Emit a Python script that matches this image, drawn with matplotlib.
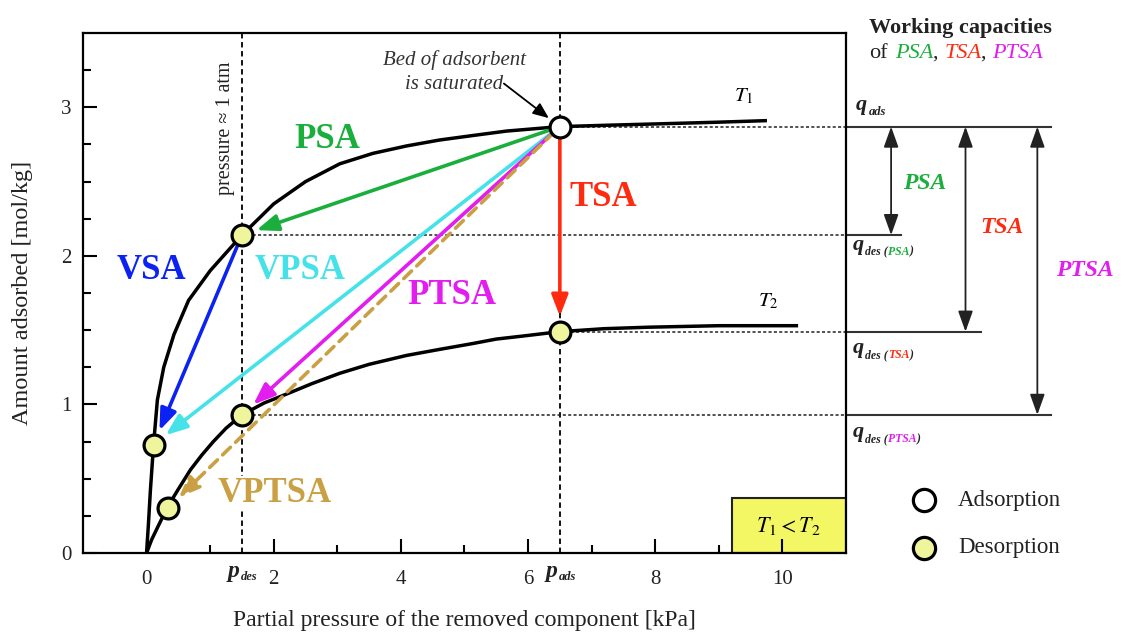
import matplotlib.pyplot as plt
from matplotlib.patches import Rectangle

plt.rcParams['font.family'] = ['Liberation Serif', 'DejaVu Serif']
plt.rcParams['mathtext.fontset'] = 'stix'

# isotherms, partial pressure [kPa] vs loading [mol/kg]
t1_p = [0, 0.03, 0.06, 0.11, 0.17, 0.27, 0.43, 0.66, 1.0, 1.5, 2.0, 2.5, 3.04, 3.56,
        4.09, 4.61, 5.13, 5.66, 6.5, 7.3, 8.17, 9.0, 9.73]
t1_q = [0, 0.2, 0.42, 0.73, 1.03, 1.25, 1.47, 1.70, 1.90, 2.14, 2.35, 2.50, 2.62, 2.69,
        2.74, 2.78, 2.81, 2.84, 2.87, 2.88, 2.89, 2.90, 2.91]
t2_p = [0, 0.08, 0.17, 0.33, 0.5, 0.69, 0.87, 1.05, 1.25, 1.5, 1.85, 2.26, 2.6, 3.04,
        3.5, 4.09, 4.6, 5.13, 5.5, 5.91, 6.5, 7.2, 7.9, 9.0, 10.22]
t2_q = [0, 0.09, 0.17, 0.31, 0.43, 0.56, 0.66, 0.75, 0.84, 0.93, 1.01, 1.08, 1.14, 1.21,
        1.27, 1.33, 1.37, 1.41, 1.44, 1.46, 1.49, 1.51, 1.52, 1.53, 1.53]

p_des = 1.5
p_ads = 6.5
q_ads = 2.87

# desorption end states
des_p = [0.11, 1.5, 0.33, 1.5, 6.5]
des_q = [0.73, 2.14, 0.30, 0.93, 1.49]

# cycles: name, start, end, colour
cycles = [
    ('PSA',   (p_ads, q_ads), (1.5, 2.14), '#1aae3c'),
    ('VSA',   (1.5, 2.14),    (0.11, 0.73), '#0b22f2'),
    ('VPSA',  (p_ads, q_ads), (0.11, 0.73), '#45e2ea'),
    ('PTSA',  (p_ads, q_ads), (1.5, 0.93), '#e31cf0'),
    ('VPTSA', (p_ads, q_ads), (0.33, 0.30), '#c9a043'),
    ('TSA',   (p_ads, q_ads), (6.5, 1.49), '#ff2b10'),
]
label_pos = {'PSA': (2.84, 2.78), 'VSA': (0.08, 1.90), 'VPSA': (2.41, 1.90),
             'PTSA': (4.80, 1.73), 'VPTSA': (2.01, 0.40), 'TSA': (7.18, 2.39)}

# working capacities
cap_names = ['PSA', 'TSA', 'PTSA']
cap_q = [2.14, 1.49, 0.93]
cap_colors = ['#1aae3c', '#ff2b10', '#e31cf0']

fig = plt.figure(figsize=(11.26, 6.35), dpi=100)
ax = fig.add_axes([0.0737, 0.1291, 0.6776, 0.8189])

ax.set_xlim(-1, 11)
ax.set_ylim(0, 3.5)
ax.set_xticks([0, 2, 4, 6, 8, 10])
ax.set_xticks([1, 3, 5, 7, 9], minor=True)
ax.set_yticks([0, 1, 2, 3])
ax.set_yticks([0.25, 0.5, 0.75, 1.25, 1.5, 1.75, 2.25, 2.5, 2.75, 3.25], minor=True)
ax.tick_params(which='both', direction='in', width=1.5, labelsize=15, labelcolor='#222')
ax.tick_params(which='major', length=10)
ax.tick_params(which='minor', length=6)
ax.tick_params(axis='x', pad=12)
ax.tick_params(axis='y', pad=8)
for s in ax.spines.values():
    s.set_linewidth(1.6)

ax.set_xlabel('Partial pressure of the removed component [kPa]', fontsize=17, color='#222')
ax.set_ylabel('Amount adsorbed [mol/kg]', fontsize=17.5, color='#222')
ax.xaxis.set_label_coords(0.5, -0.11)
ax.yaxis.set_label_coords(-0.066, 0.5)

# guide lines
ax.axvline(p_des, ls=(0, (3, 2)), lw=1.3, color='black', zorder=1.5)
ax.axvline(p_ads, ls=(0, (3, 2)), lw=1.3, color='black', zorder=1.5)
ax.hlines([q_ads, cap_q[0], cap_q[1], cap_q[2]], [p_ads, p_des, p_ads, p_des], 11,
          ls=(0, (2, 1.5)), lw=1.1, color='#222', zorder=1.5)

# isotherms
ax.plot(t1_p, t1_q, color='black', lw=2.5, zorder=3, solid_joinstyle='round')
ax.plot(t2_p, t2_q, color='black', lw=2.5, zorder=3, solid_joinstyle='round')
ax.text(9.39, 3.07, r'$T_{\mathit{1}}$', fontsize=15, ha='center', va='center')
ax.text(9.78, 1.69, r'$T_{\mathit{2}}$', fontsize=15, ha='center', va='center')

# cycle arrows
for name, start, end, col in cycles:
    ls = (0, (3, 2)) if name == 'VPTSA' else '-'
    ax.annotate('', xy=end, xytext=start,
                arrowprops=dict(arrowstyle='-|>,head_length=0.65,head_width=0.25',
                                color=col, lw=2.6, linestyle=ls,
                                shrinkA=6, shrinkB=11, mutation_scale=20),
                zorder=4)
    x, y = label_pos[name]
    bb = dict(facecolor='white', edgecolor='none', pad=1) if name == 'VPTSA' else None
    ax.text(x, y, name, color=col, fontsize=25, fontweight='bold',
            ha='center', va='center', bbox=bb, zorder=2)

# state points
ax.plot(des_p, des_q, 'o', ms=15, mfc='#eef59c', mec='black', mew=2.3, zorder=6)
ax.plot([p_ads], [q_ads], 'o', ms=15, mfc='white', mec='black', mew=2.3, zorder=6)

ax.text(4.84, 3.24, 'Bed of adsorbent\nis saturated', fontsize=15, fontstyle='italic',
        color='#333', ha='center', va='center', linespacing=1.35)
ax.annotate('', xy=(p_ads, q_ads), xytext=(5.62, 3.16),
            arrowprops=dict(arrowstyle='-|>,head_length=0.6,head_width=0.25', color='black',
                            lw=1.3, shrinkA=0, shrinkB=10, mutation_scale=16))
ax.text(1.24, 2.86, 'pressure \u2248 1 atm', fontsize=14.5, rotation=90, color='#222',
        ha='center', va='center')

# T1 < T2 box
ax.add_patch(Rectangle((9.2, 0), 1.8, 0.37, facecolor='#f2f763', edgecolor='#222', lw=1.5, zorder=1))
ax.text(10.09, 0.18, r'$T_{\mathit{1}} < T_{\mathit{2}}$', fontsize=16, ha='center', va='center')


def chain(first, parts, size, dy, bold=True):
    # lay small text pieces one after another, starting at the right of `first`
    prev = first
    for i, (s, c, italic) in enumerate(parts):
        prev = ax.annotate(s, xy=(1, 0), xycoords=prev,
                           xytext=(1 if i == 0 else 0, dy if i == 0 else 0),
                           textcoords='offset points', fontsize=size,
                           fontweight='bold' if bold else 'normal',
                           fontstyle='italic' if italic else 'normal',
                           color=c, va='bottom', annotation_clip=False)


# p_des / p_ads labels under the axis
for xv, sub in [(p_des, 'des'), (p_ads, 'ads')]:
    t = ax.annotate('p', xy=(xv, 0), xycoords=('data', 'axes fraction'), xytext=(-2, -17),
                    textcoords='offset points', fontsize=17, fontweight='bold', fontstyle='italic',
                    ha='right', va='baseline', color='#222', annotation_clip=False)
    chain(t, [(sub, '#222', True)], 9, -1)

# working capacity scale on the right
x_end = [11.87, 13.12, 14.22]
x_arr = [11.71, 12.88, 14.01]
cap_lbl = [(12.24, 2.49), (13.46, 2.19), (14.76, 1.90)]
ax.plot([11, 14.22], [q_ads, q_ads], color='#333', lw=1.5, clip_on=False)
for name, qv, col, xe, xa, (lx, ly) in zip(cap_names, cap_q, cap_colors, x_end, x_arr, cap_lbl):
    ax.plot([11, xe], [qv, qv], color='#333', lw=1.5, clip_on=False)
    ax.annotate('', xy=(xa, qv), xytext=(xa, q_ads), annotation_clip=False,
                arrowprops=dict(arrowstyle='<|-|>,head_length=0.7,head_width=0.25', color='#222',
                                lw=1.3, shrinkA=0, shrinkB=0, mutation_scale=18))
    ax.text(lx, ly, name, color=col, fontsize=17, fontweight='bold', fontstyle='italic',
            ha='center', va='center', clip_on=False)

t = ax.text(11.16, 2.98, 'q', fontsize=16, fontweight='bold', fontstyle='italic', color='#222',
            va='baseline', clip_on=False)
chain(t, [('ads', '#222', True)], 9, -2)
for name, col, yq in zip(cap_names, cap_colors, [2.04, 1.345, 0.78]):
    t = ax.text(11.11, yq, 'q', fontsize=16, fontweight='bold', fontstyle='italic', color='#222',
                va='baseline', clip_on=False)
    chain(t, [('des (', '#222', True), (name, col, True), (')', '#222', True)], 8.5, -2)

fig.text(0.8526, 0.948, 'Working capacities', fontsize=16, fontweight='bold', color='#222',
         ha='center', va='baseline')
t = fig.text(0.7718, 0.901, 'of', fontsize=16, color='#222', va='bottom')
chain(t, [(' ', '#222', False), ('PSA', '#1aae3c', True), (', ', '#222', False),
          ('TSA', '#ff2b10', True), (', ', '#222', False), ('PTSA', '#e31cf0', True)],
      16, 0, bold=False)

# legend
ax.plot([12.23], [0.356], 'o', ms=16, mfc='white', mec='black', mew=2.3, clip_on=False)
ax.plot([12.23], [0.034], 'o', ms=16, mfc='#eef59c', mec='black', mew=2.3, clip_on=False)
ax.text(12.76, 0.356, 'Adsorption', fontsize=16.5, color='#222', va='center', clip_on=False)
ax.text(12.76, 0.034, 'Desorption', fontsize=16.5, color='#222', va='center', clip_on=False)

fig.savefig('out.png', dpi=100)
